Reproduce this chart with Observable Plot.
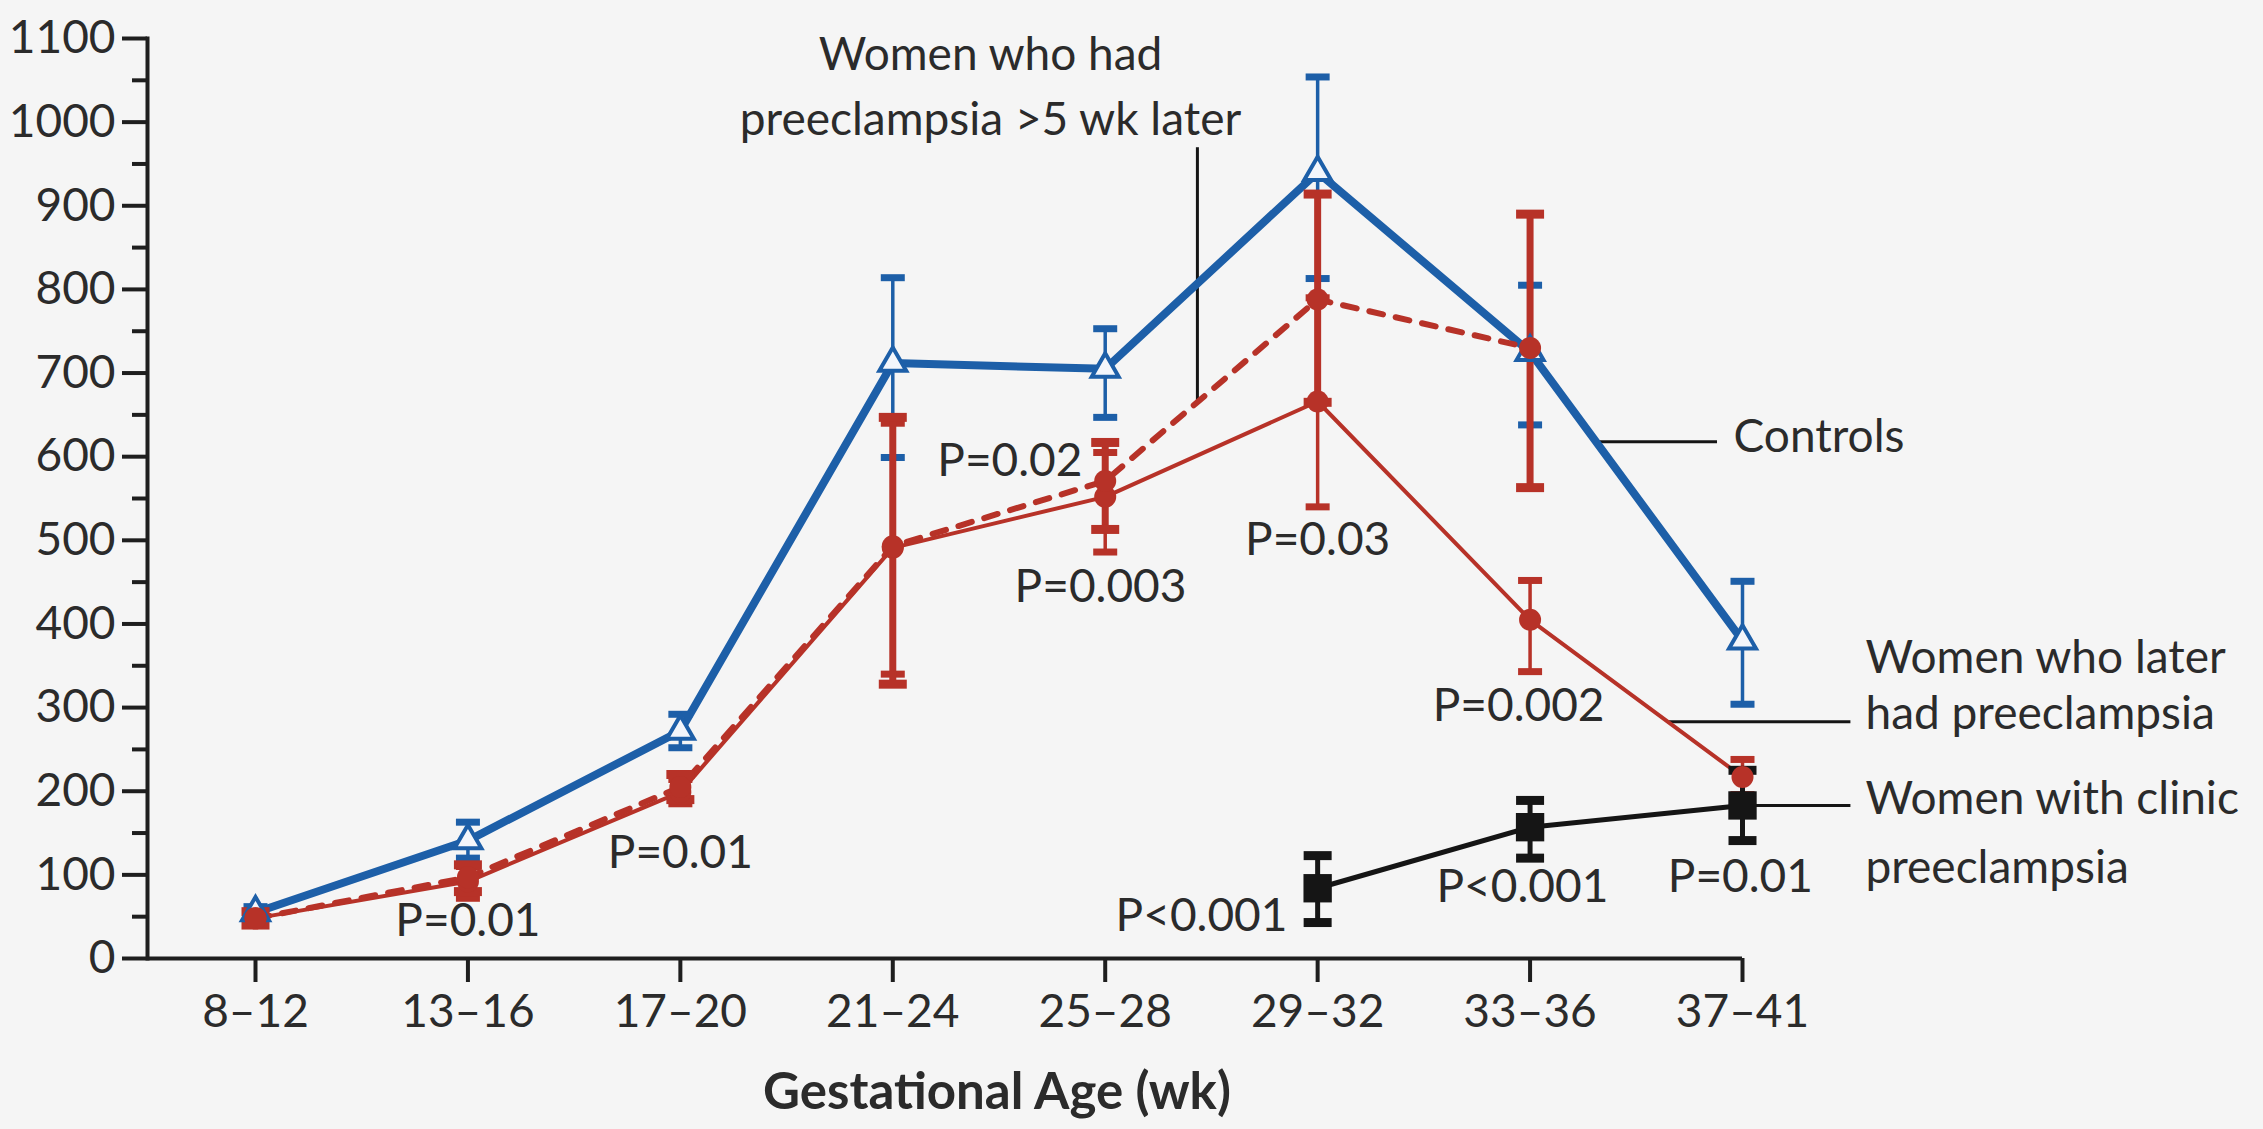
<!DOCTYPE html>
<html>
<head>
<meta charset="utf-8">
<script src="https://cdn.jsdelivr.net/npm/d3@7"></script>
<script src="https://cdn.jsdelivr.net/npm/@observablehq/plot@0.6"></script>
<style>
  html, body { margin: 0; padding: 0; background: #f5f5f5; overflow: hidden; }
  #chart svg { display: block; }
</style>
</head>
<body>
<div id="chart"></div>
<script>
// ---- Data ----
const weeks = ["8–12", "13–16", "17–20", "21–24", "25–28", "29–32", "33–36", "37–41"];

// Controls
const controlsMean = [55, 141, 272, 712, 705, 940, 725, 380];
const controlsLow  = [48, 120, 252, 599, 647, 813, 638, 304];
const controlsHigh = [62, 163, 292, 814, 753, 1054, 805, 451];

// Women who later had preeclampsia (solid red)
const laterMean = [48, 92, 199, 491, 552, 666, 405, 217];
const laterLow  = [40, 72, 185, 340, 486, 540, 343, 196];
const laterHigh = [56, 110, 214, 640, 605, 790, 452, 238];

// Women who had preeclampsia >5 wk later (dashed red)
const earlyMean = [48, 97, 205, 493, 571, 788, 730, null];
const earlyLow  = [40, 80, 190, 328, 513, 665, 563, null];
const earlyHigh = [56, 112, 220, 647, 617, 914, 890, null];

// Women with clinic preeclampsia (black)
const clinicMean = [null, null, null, null, null, 84, 157, 183];
const clinicLow  = [null, null, null, null, null, 43, 120, 141];
const clinicHigh = [null, null, null, null, null, 123, 189, 225];

// Y tick values
const yMajorTicks = [0, 100, 200, 300, 400, 500, 600, 700, 800, 900, 1000, 1100];
const yMinorTicks = [50, 150, 250, 350, 450, 550, 650, 750, 850, 950, 1050];

// P-value annotations
const pText   = ["P=0.01", "P=0.01", "P=0.02", "P=0.003", "P=0.03", "P=0.002", "P<0.001", "P<0.001", "P=0.01"];
const pX      = [1, 2, 3.893, 3.978, 5, 5.946, 4.858, 5.964, 6.99];
const pY      = [45, 126, 595, 444, 500, 302, 51, 85, 97];
const pAnchor = ["middle", "middle", "end", "middle", "middle", "middle", "end", "middle", "middle"];

// Series labels
const seriesText   = ["Women who had", "preeclampsia >5 wk later", "Controls", "Women who later", "had preeclampsia", "Women with clinic", "preeclampsia"];
const seriesX      = [3.46, 3.46, 6.958, 7.579, 7.579, 7.579, 7.579];
const seriesY      = [1080, 1002, 623, 359, 292, 190, 108];
const seriesAnchor = ["middle", "middle", "start", "start", "start", "start", "start"];

// Leader lines
const leaderX1 = [4.434, 6.31, 6.647, 7];
const leaderY1 = [970, 618, 283, 183];
const leaderX2 = [4.434, 6.88, 7.508, 7.508];
const leaderY2 = [665, 618, 283, 183];

const xTitle = "Gestational Age (wk)";

// ---- Build tables ----
function rows(means, lows, highs) {
  return weeks.map((w, i) => ({i, week: w, mean: means[i], lo: lows[i], hi: highs[i]}))
              .filter(d => d.mean != null);
}
const controls = rows(controlsMean, controlsLow, controlsHigh);
const later = rows(laterMean, laterLow, laterHigh);
const early = rows(earlyMean, earlyLow, earlyHigh);
const clinic = rows(clinicMean, clinicLow, clinicHigh);

const pLabels = pText.map((t, k) => ({t, x: pX[k], y: pY[k], a: pAnchor[k]}));
const sLabels = seriesText.map((t, k) => ({t, x: seriesX[k], y: seriesY[k], a: seriesAnchor[k]}));
const leaders = leaderX1.map((x1, k) => ({x1, y1: leaderY1[k], x2: leaderX2[k], y2: leaderY2[k]}));

const blue = "#1d5fa8", red = "#b73228", black = "#151515", ink = "#2b2b2b";

const capThin = {draw(ctx) { ctx.rect(-12, -3.5, 24, 7); }};
const capThick = {draw(ctx) { ctx.rect(-14, -4.5, 28, 9); }};

function errorMarks(data, color, width, cap) {
  return [
    Plot.ruleX(data, {x: "i", y1: "lo", y2: "hi", stroke: color, strokeWidth: width}),
    Plot.dot(data, {x: "i", y: "hi", symbol: cap, r: 1, fill: color, stroke: null}),
    Plot.dot(data, {x: "i", y: "lo", symbol: cap, r: 1, fill: color, stroke: null})
  ];
}

const chart = Plot.plot({
  width: 2263,
  height: 1129,
  marginLeft: 147,
  marginRight: 521,
  marginTop: 38,
  marginBottom: 171,
  style: {background: "transparent", fontFamily: "Lato, 'Open Sans', sans-serif", fontSize: "46px", color: ink, overflow: "visible"},
  x: {type: "linear", domain: [0, 7], range: [255, 1742]},
  y: {domain: [0, 1100]},
  marks: [
    Plot.frame({anchor: "left", stroke: "#1e1e1e", strokeWidth: 4}),
    Plot.ruleY([0], {stroke: "#1e1e1e", strokeWidth: 4}),
    Plot.axisY(yMajorTicks, {tickFormat: d => String(d), tickSize: 25, tickPadding: 7, strokeWidth: 4, stroke: "#1e1e1e", fill: ink, label: null}),
    Plot.axisY(yMinorTicks, {tickSize: 15, text: null, strokeWidth: 4, stroke: "#1e1e1e", label: null}),
    Plot.axisX(weeks.map((_, i) => i), {tickFormat: i => weeks[i], tickSize: 24, tickPadding: 12, strokeWidth: 4, stroke: "#1e1e1e", fill: ink, label: null}),
    Plot.text([xTitle], {frameAnchor: "bottom", lineAnchor: "middle", dx: 52, dy: 134, fontWeight: "bold", fontSize: 51, fill: ink}),

    // leader lines
    Plot.link(leaders, {x1: "x1", y1: "y1", x2: "x2", y2: "y2", stroke: black, strokeWidth: 3}),

    // lines
    Plot.line(controls, {x: "i", y: "mean", stroke: blue, strokeWidth: 8}),
    Plot.line(later, {x: "i", y: "mean", stroke: red, strokeWidth: 4}),
    Plot.line(early, {x: "i", y: "mean", stroke: red, strokeWidth: 6, strokeDasharray: "14,13"}),
    Plot.line(clinic, {x: "i", y: "mean", stroke: black, strokeWidth: 5}),

    // error bars
    ...errorMarks(controls, blue, 3.5, capThin),
    ...errorMarks(later, red, 3.5, capThin),
    ...errorMarks(early, red, 7, capThick),
    ...errorMarks(clinic, black, 5, capThick),

    // markers
    Plot.dot(controls, {x: "i", y: "mean", symbol: "triangle", r: 10, fill: "#f3f6fb", stroke: blue, strokeWidth: 4}),
    Plot.dot(later, {x: "i", y: "mean", symbol: "circle", r: 11, fill: red, stroke: null}),
    Plot.dot(early, {x: "i", y: "mean", symbol: "circle", r: 11, fill: red, stroke: null}),
    Plot.dot(clinic, {x: "i", y: "mean", symbol: "square", r: 16, fill: black, stroke: null}),

    // annotations
    Plot.text(pLabels, {x: "x", y: "y", text: "t", textAnchor: "middle", fill: ink, filter: d => d.a === "middle"}),
    Plot.text(pLabels, {x: "x", y: "y", text: "t", textAnchor: "end", fill: ink, filter: d => d.a === "end"}),
    Plot.text(sLabels, {x: "x", y: "y", text: "t", textAnchor: "start", fill: ink, filter: d => d.a === "start"}),
    Plot.text(sLabels, {x: "x", y: "y", text: "t", textAnchor: "middle", fill: ink, filter: d => d.a === "middle"})
  ]
});

document.getElementById("chart").appendChild(chart);
</script>
</body>
</html>
